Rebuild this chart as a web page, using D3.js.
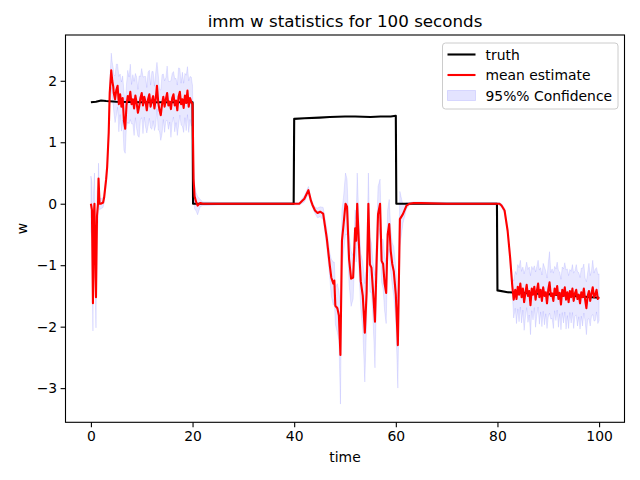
<!DOCTYPE html>
<html>
<head>
<meta charset="utf-8">
<script src="https://cdn.jsdelivr.net/npm/d3@7"></script>
<style>
  body { margin: 0; background: #fff; }
  svg { font-family: "DejaVu Sans", sans-serif; }
</style>
</head>
<body>
<svg id="chart" width="640" height="480"></svg>
<script>
// truth (piecewise)
const truthTime = [0, 1, 2, 3, 5, 10, 15, 20, 20.1, 39.9, 40.0, 42, 45, 47, 50, 52, 55, 57, 59, 60, 60.1, 79.9, 80.0, 82, 85, 90, 95, 100];
const truthW    = [1.65, 1.66, 1.68, 1.67, 1.66, 1.65, 1.65, 1.65, 0, 0, 1.38, 1.39, 1.40, 1.41, 1.42, 1.42, 1.41, 1.42, 1.42, 1.43, 0, 0, -1.41, -1.44, -1.45, -1.47, -1.50, -1.53];

// mean estimate and half width of the 95% band
const estTime = [
  0, 0.2, 0.4, 0.5, 0.7, 0.9, 1.0, 1.2, 1.4, 1.5, 1.7, 2.0, 2.4, 2.6, 3.0, 3.2, 3.5, 3.7, 4.0, 4.2, 4.4,
  4.5, 4.75, 5, 5.25, 5.5, 5.75, 6, 6.25, 6.5, 6.75, 7, 7.25, 7.5, 7.75, 8, 8.25, 8.5, 8.75, 9, 9.25,
  9.5, 9.75, 10, 10.25, 10.5, 10.75, 11, 11.25, 11.5, 11.75, 12, 12.25, 12.5, 12.75, 13, 13.25, 13.5, 13.75,
  14, 14.25, 14.5, 14.75, 15, 15.25, 15.5, 15.75, 16, 16.25, 16.5, 16.75, 17, 17.25, 17.5, 17.75, 18, 18.25,
  18.5, 18.75, 19, 19.25, 19.5, 19.75, 20,
  20.2, 20.4, 20.7, 21.0, 21.5, 22, 25, 30, 35, 39.9,
  41.0, 42.0, 42.8, 43.3, 43.6, 44.1, 44.6, 45.1, 45.7, 46.4, 47.0, 47.3, 47.7, 47.9, 48.1, 48.5, 48.8, 49.1,
  49.4, 49.7, 50.1, 50.4, 50.8, 51.2, 51.6, 52.0, 52.2, 52.4, 52.8, 53.1, 53.5, 53.9, 54.25, 54.6, 54.9, 55.2,
  55.5, 55.9, 56.2, 56.5, 56.9, 57.2, 57.5, 57.8, 58.1, 58.4, 58.7, 59.0, 59.3, 59.6, 60.0, 60.4, 60.8, 61.4,
  62.1, 62.7,
  63.5, 65, 70, 75, 80.0,
  80.4, 80.8, 81.4, 82.0, 82.5, 82.9, 83.2,
  83.5, 83.75, 84, 84.25, 84.5, 84.75, 85, 85.25, 85.5, 85.75, 86, 86.25, 86.5, 86.75, 87, 87.25, 87.5, 87.75,
  88, 88.25, 88.5, 88.75, 89, 89.25, 89.5, 89.75, 90, 90.25, 90.5, 90.75, 91, 91.25, 91.5, 91.75, 92, 92.25,
  92.5, 92.75, 93, 93.25, 93.5, 93.75, 94, 94.25, 94.5, 94.75, 95, 95.25, 95.5, 95.75, 96, 96.25, 96.5, 96.75,
  97, 97.25, 97.5, 97.75, 98, 98.25, 98.5, 98.75, 99, 99.25, 99.5, 99.75, 100
];
const estMean = [
  0, -0.1, -1.62, -0.3, 0.0, -1.2, -1.52, -0.2, 0.0, 0.41, 0.0, 0.0, 0.02, 0.1, 0.4, 0.6, 1.15, 1.8, 2.17, 2.0, 1.9,
  1.80, 1.70, 1.85, 1.92, 1.62, 1.78, 1.58, 1.72, 1.35, 1.22, 1.60, 1.75, 1.68, 1.82, 1.62, 1.70, 1.55, 1.76, 1.64, 1.48,
  1.58, 1.72, 1.80, 1.60, 1.74, 1.66, 1.52, 1.70, 1.78, 1.58, 1.68, 1.75, 1.55, 1.70, 1.92, 1.65, 1.52, 1.44,
  1.62, 1.74, 1.58, 1.70, 1.80, 1.60, 1.66, 1.54, 1.72, 1.78, 1.60, 1.68, 1.52, 1.74, 1.82, 1.62, 1.70, 1.56,
  1.76, 1.64, 1.84, 1.58, 1.72, 1.66, 1.62,
  0.4, 0.12, 0.03, -0.03, 0.01, 0.0, 0.0, 0.0, 0.0, 0.0,
  0.0, 0.08, 0.22, 0.05, -0.02, -0.11, -0.15, -0.13, -0.16, -0.55, -1.0, -1.2, -1.3, -1.25, -1.66, -1.70, -1.82, -2.46,
  -0.6, -0.35, 0.0, -0.05, -0.9, -1.22, -1.2, -0.4, -0.6, 0.0, -0.77, -1.26, -1.5, -2.1, -1.45, 0.0, -0.99, -1.04,
  -1.4, -1.92, -1.0, -0.17, 0.0, -0.93, -0.98, -1.3, -1.45, -0.5, -0.33, -0.77, -0.98, -1.1, -1.48, -2.30, -0.25, -0.17,
  -0.03, 0.0,
  0.01, 0.01, 0.0, 0.0, 0.0,
  0.0, -0.03, -0.11, -0.44, -0.88, -1.32, -1.56,
  -1.40, -1.55, -1.35, -1.48, -1.30, -1.52, -1.38, -1.60, -1.45, -1.32, -1.50, -1.42, -1.65, -1.38, -1.48, -1.35, -1.56, -1.42,
  -1.30, -1.52, -1.40, -1.58, -1.36, -1.50, -1.44, -1.62, -1.40, -1.28, -1.50, -1.46, -1.58, -1.38, -1.48, -1.34, -1.55, -1.45,
  -1.64, -1.40, -1.50, -1.36, -1.56, -1.44, -1.60, -1.42, -1.52, -1.38, -1.58, -1.46, -1.40, -1.55, -1.48, -1.62, -1.44, -1.52,
  -1.38, -1.56, -1.70, -1.50, -1.42, -1.58, -1.46, -1.36, -1.52, -1.48, -1.40, -1.55, -1.52
];
const estHalf = [
  0.45, 0.45, 0.45, 0.45, 0.5, 0.45, 0.5, 0.4, 0.3, 0.25, 0.1, 0.08, 0.08, 0.08, 0.08, 0.08, 0.1, 0.15, 0.28, 0.3, 0.3,
  0.30, 0.38, 0.42, 0.35, 0.45, 0.33, 0.40, 0.36, 0.48, 0.40, 0.34, 0.42, 0.38, 0.45, 0.32, 0.40, 0.44, 0.36, 0.42, 0.38,
  0.50, 0.35, 0.40, 0.46, 0.33, 0.41, 0.37, 0.44, 0.39, 0.35, 0.47, 0.40, 0.36, 0.43, 0.38, 0.45, 0.34, 0.41,
  0.48, 0.37, 0.42, 0.35, 0.44, 0.39, 0.33, 0.46, 0.40, 0.37, 0.43, 0.36, 0.41, 0.47, 0.38, 0.34, 0.44, 0.40,
  0.36, 0.45, 0.39, 0.42, 0.35, 0.40, 0.30,
  0.3, 0.2, 0.15, 0.15, 0.06, 0.03, 0.02, 0.02, 0.02, 0.02,
  0.02, 0.05, 0.06, 0.05, 0.04, 0.05, 0.08, 0.08, 0.1, 0.15, 0.2, 0.3, 0.35, 0.3, 0.3, 0.4, 0.4, 0.8,
  0.5, 0.45, 0.5, 0.45, 0.4, 0.45, 0.35, 0.3, 0.35, 0.5, 0.4, 0.45, 0.55, 0.8, 0.5, 0.5, 0.45, 0.4,
  0.45, 0.75, 0.45, 0.45, 0.4, 0.35, 0.4, 0.45, 0.5, 0.4, 0.4, 0.35, 0.35, 0.4, 0.45, 0.7, 0.45, 0.15,
  0.05, 0.02,
  0.02, 0.02, 0.02, 0.02, 0.02,
  0.02, 0.03, 0.04, 0.05, 0.08, 0.12, 0.3,
  0.30, 0.40, 0.36, 0.44, 0.38, 0.42, 0.35, 0.46, 0.40, 0.37, 0.43, 0.39, 0.48, 0.36, 0.41, 0.34, 0.45, 0.40,
  0.38, 0.44, 0.36, 0.42, 0.39, 0.47, 0.35, 0.41, 0.44, 0.50, 0.38, 0.40, 0.45, 0.36, 0.42, 0.39, 0.46, 0.34,
  0.41, 0.37, 0.44, 0.40, 0.48, 0.38, 0.43, 0.35, 0.42, 0.39, 0.45, 0.37, 0.41, 0.44, 0.36, 0.42, 0.39, 0.47,
  0.40, 0.35, 0.43, 0.38, 0.45, 0.41, 0.37, 0.44, 0.39, 0.42, 0.36, 0.40, 0.38
];

const xTicks = [0, 20, 40, 60, 80, 100];
const yTicks = [-3, -2, -1, 0, 1, 2];
const legendLabels = ["truth", "mean estimate", "95%% Confidence"];

if (estTime.length !== estMean.length || estTime.length !== estHalf.length)
  console.warn("length mismatch", estTime.length, estMean.length, estHalf.length);

const svg = d3.select("#chart");
const plotL = 65.5, plotR = 624.5, plotT = 35, plotB = 422.3;

const x = d3.scaleLinear().domain([-5, 105]).range([plotL, plotR]);
const y = d3.scaleLinear().domain([-3.556, 2.745]).range([plotB, plotT]);

const est = estTime.map((t, i) => ({t, m: estMean[i], h: estHalf[i]}));
const truth = truthTime.map((t, i) => ({t, w: truthW[i]}));

const bandFill = "rgba(0,0,255,0.09)", bandEdge = "rgba(0,0,255,0.09)";

svg.append("defs").append("clipPath").attr("id", "plot")
  .append("rect").attr("x", plotL).attr("y", plotT)
  .attr("width", plotR - plotL).attr("height", plotB - plotT);

const g = svg.append("g").attr("clip-path", "url(#plot)");

g.append("path")
  .datum(est)
  .attr("d", d3.area().x(d => x(d.t)).y0(d => y(d.m - d.h)).y1(d => y(d.m + d.h)))
  .attr("fill", bandFill)
  .attr("stroke", bandEdge)
  .attr("stroke-width", 1);

g.append("path")
  .datum(truth)
  .attr("d", d3.line().x(d => x(d.t)).y(d => y(d.w)))
  .attr("fill", "none").attr("stroke", "#000").attr("stroke-width", 2.1)
  .attr("stroke-linejoin", "round");

g.append("path")
  .datum(est)
  .attr("d", d3.line().x(d => x(d.t)).y(d => y(d.m)))
  .attr("fill", "none").attr("stroke", "#ff0000").attr("stroke-width", 2.1)
  .attr("stroke-linejoin", "round");

const fmt = d => d < 0 ? "\u2212" + Math.abs(d) : String(d);

const xAxis = svg.append("g").attr("transform", `translate(0,${plotB})`)
  .call(d3.axisBottom(x).tickValues(xTicks).tickFormat(fmt).tickSize(4.9).tickPadding(3.5).tickSizeOuter(0));
const yAxis = svg.append("g").attr("transform", `translate(${plotL},0)`)
  .call(d3.axisLeft(y).tickValues(yTicks).tickFormat(fmt).tickSize(4.9).tickPadding(3.5).tickSizeOuter(0));

[xAxis, yAxis].forEach(a => {
  a.select(".domain").remove();
  a.selectAll("line").attr("stroke", "#000").attr("stroke-width", 1.1);
  a.selectAll("text").attr("fill", "#000").attr("font-size", 13.9)
    .attr("font-family", "DejaVu Sans, sans-serif");
});

svg.append("rect").attr("x", plotL).attr("y", plotT)
  .attr("width", plotR - plotL).attr("height", plotB - plotT)
  .attr("fill", "none").attr("stroke", "#000").attr("stroke-width", 1.1);

svg.append("text").attr("x", (plotL + plotR) / 2).attr("y", 462)
  .attr("text-anchor", "middle").attr("font-size", 13.9).text("time");
svg.append("text").attr("transform", `translate(27,${(plotT + plotB) / 2}) rotate(-90)`)
  .attr("text-anchor", "middle").attr("font-size", 13.9).text("w");
svg.append("text").attr("x", (plotL + plotR) / 2).attr("y", 27)
  .attr("text-anchor", "middle").attr("font-size", 16.7).text("imm w statistics for 100 seconds");

// legend
const lg = svg.append("g").attr("transform", "translate(442.5,43)");
lg.append("rect").attr("width", 175.5).attr("height", 66).attr("rx", 3)
  .attr("fill", "rgba(255,255,255,0.8)").attr("stroke", "#cccccc").attr("stroke-width", 1);
legendLabels.forEach((lab, i) => {
  const cy = 11.5 + i * 20.5;
  if (i < 2) {
    lg.append("line").attr("x1", 5).attr("x2", 33).attr("y1", cy).attr("y2", cy)
      .attr("stroke", i === 0 ? "#000" : "#ff0000").attr("stroke-width", 2.1);
  } else {
    lg.append("rect").attr("x", 5).attr("y", cy - 5).attr("width", 28).attr("height", 10)
      .attr("fill", "rgba(0,0,255,0.11)").attr("stroke", "rgba(0,0,255,0.11)");
  }
  lg.append("text").attr("x", 43).attr("y", cy + 5).attr("font-size", 13.9).text(lab);
});
</script>
</body>
</html>
